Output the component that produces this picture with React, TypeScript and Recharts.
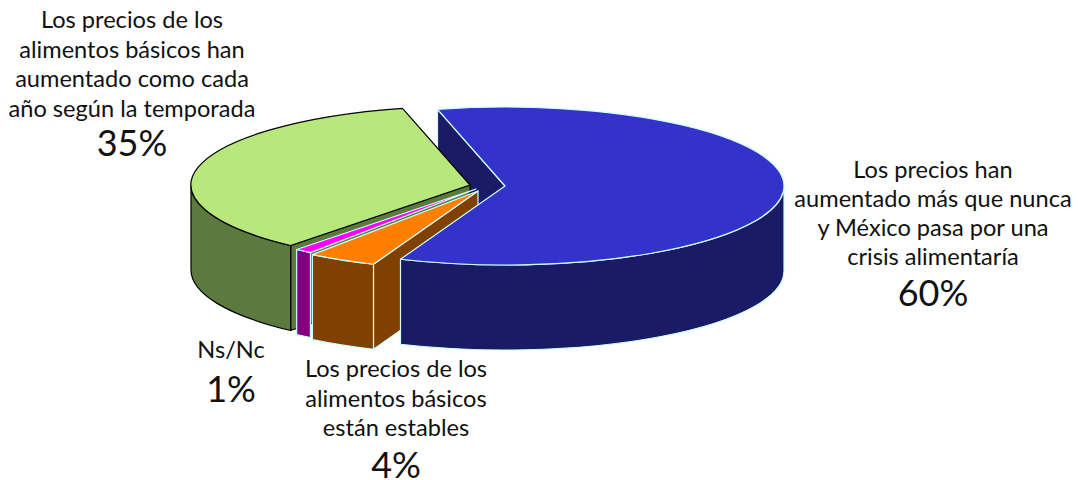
import { PieChart, Pie } from 'recharts';

// clockwise order starting at the green slice
const categories = ['Subieron como cada año', 'Subieron más que nunca', 'Estables', 'Ns/Nc'];
const shares = [35, 60, 4, 1];
const labelLines = [
  ['Los precios de los', 'alimentos básicos han', 'aumentado como cada', 'año según la temporada'],
  ['Los precios han', 'aumentado más que nunca', 'y México pasa por una', 'crisis alimentaría'],
  ['Los precios de los', 'alimentos básicos', 'están estables'],
  ['Ns/Nc'],
];

const topColors = ['#b8e87c', '#3333cc', '#ff8000', '#ff00ff'];
const sideColors = ['#5c7a3e', '#1a1a66', '#804000', '#800080'];
const edgeColors = ['#000000', '#ccffff', '#ccffff', '#ccffff'];
// which layer draws the slice's cut face (the blue one sits behind the green one)
const faceLayers = ['face', 'backFace', 'face', null];
const explode = [[-8, -2], [27, -1], [0, 4], [-2, 2]];
// text block: centre x, first baseline, line step, percent baseline
const labelBoxes = [
  [132, 28, 29.5, 156],
  [933, 178, 29, 306],
  [396, 377, 29.5, 478],
  [231, 358, 0, 402],
];

const CX = 478;
const CY = 187;
const RX = 279;
const RY = 79;
const DEPTH = 85;
const FONT = 'Lato, sans-serif';

const toPoint = (ax: number, ay: number, deg: number) => {
  const rad = (deg * Math.PI) / 180;
  return [ax + RX * Math.cos(rad), ay - RY * Math.sin(rad)];
};

const sliceShape = (layer: string) => (props: any) => {
  const i = props.index;
  const ax = props.cx + explode[i][0];
  const ay = props.cy + explode[i][1];
  const s = props.startAngle;
  const e = props.endAngle;
  const common = { stroke: edgeColors[i], strokeWidth: 1.2, strokeLinejoin: 'round' as const };

  if (layer === 'top') {
    const [x1, y1] = toPoint(ax, ay, s);
    const [x2, y2] = toPoint(ax, ay, e);
    const large = s - e > 180 ? 1 : 0;
    const d = `M${ax},${ay} L${x1},${y1} A${RX},${RY} 0 ${large} 1 ${x2},${y2} Z`;
    return <path d={d} fill={topColors[i]} {...common} />;
  }

  if (layer === 'face' || layer === 'backFace') {
    if (faceLayers[i] !== layer) return null;
    const [x, y] = toPoint(ax, ay, s);
    const d = `M${ax},${ay} L${x},${y} L${x},${y + DEPTH} L${ax},${ay + DEPTH} Z`;
    return <path d={d} fill={sideColors[i]} {...common} />;
  }

  // outer wall, only the part on the front half of the ellipse
  const walls = [[360, 180], [0, -180], [-360, -540]].map(([hi, lo]) => {
    const a = Math.min(s, hi);
    const b = Math.max(e, lo);
    if (a <= b) return null;
    const [x1, y1] = toPoint(ax, ay, a);
    const [x2, y2] = toPoint(ax, ay, b);
    const d = `M${x1},${y1} A${RX},${RY} 0 0 1 ${x2},${y2} L${x2},${y2 + DEPTH} A${RX},${RY} 0 0 0 ${x1},${y1 + DEPTH} Z`;
    return <path key={hi} d={d} fill={sideColors[i]} {...common} />;
  });
  return <g>{walls}</g>;
};

const renderLabel = (props: any) => {
  const i = props.index;
  const [x, first, step, pctY] = labelBoxes[i];
  return (
    <g key={i} style={{ fontFamily: FONT }} fill="#111111" textAnchor="middle">
      {labelLines[i].map((line, n) => (
        <text key={n} x={x} y={first + n * step} fontSize={23.6}>
          {line}
        </text>
      ))}
      <text x={x} y={pctY} fontSize={36}>
        {shares[i]}%
      </text>
    </g>
  );
};

const data = categories.map((name, i) => ({ name, value: shares[i] }));

export default function App() {
  const pieProps = {
    data,
    dataKey: 'value',
    cx: CX,
    cy: CY,
    outerRadius: RX,
    startAngle: 230,
    endAngle: -130,
    paddingAngle: 0,
    isAnimationActive: false,
  };
  return (
    <div style={{ position: 'absolute', left: 0, top: 0, width: 1078, height: 480, background: '#fff' }}>
      <PieChart width={1078} height={480} margin={{ top: 0, right: 0, bottom: 0, left: 0 }}>
        <Pie {...pieProps} shape={sliceShape('backFace')} />
        <Pie {...pieProps} shape={sliceShape('face')} />
        <Pie {...pieProps} shape={sliceShape('wall')} />
        <Pie {...pieProps} shape={sliceShape('top')} label={renderLabel} labelLine={false} />
      </PieChart>
    </div>
  );
}
